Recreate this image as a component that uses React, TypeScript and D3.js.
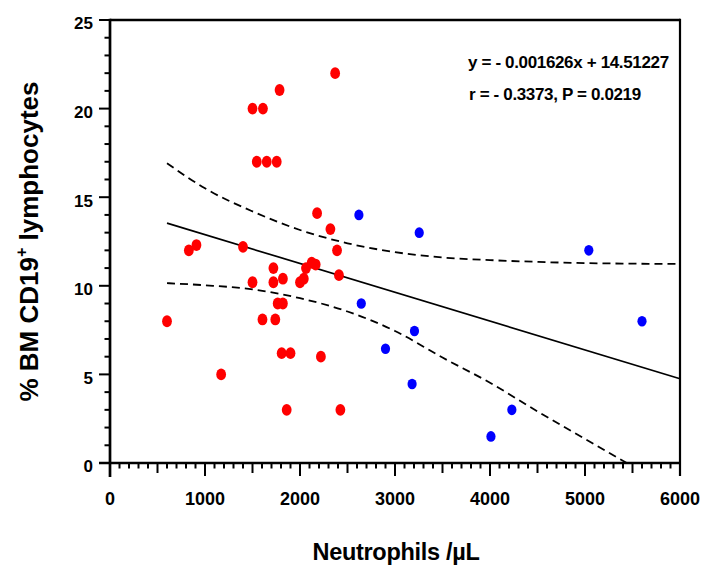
import React from 'react';
import * as d3 from 'd3';

// neutrophils per µL vs % BM CD19+ lymphocytes
const redX = [600, 830, 910, 1170, 1400, 1500, 1610, 1545, 1650, 1755, 1785, 2370, 2180, 2320, 2390, 2410, 1720,
  1500, 1720, 1820, 2000, 2040, 2063, 2123, 2165, 1765, 1820, 1605, 1740, 1807, 1900, 2220, 1860, 2425];
const redY = [8, 12, 12.3, 5, 12.2, 20, 20, 17, 17, 17, 21.05, 22, 14.1, 13.2, 12, 10.6, 11,
  10.2, 10.2, 10.4, 10.2, 10.4, 11, 11.3, 11.2, 9, 9, 8.1, 8.1, 6.2, 6.2, 6, 3, 3];

const blueX = [2620, 3255, 5040, 2645, 5600, 3205, 2900, 3180, 4230, 4010];
const blueY = [14, 13, 12, 9, 8, 7.45, 6.45, 4.46, 3, 1.5];

// fitted line and its 95% band
const slope = -0.001626;
const intercept = 14.51227;
const fitX = [600, 6000];

const bandX = [600, 1000, 1500, 2000, 2500, 3000, 3500, 4000, 4500, 5000, 5500, 6000];
const upperY = [16.92, 15.5, 14.2, 13.15, 12.4, 11.9, 11.6, 11.45, 11.35, 11.28, 11.25, 11.23];
const lowerX = [600, 1000, 1500, 2000, 2500, 3000, 3500, 4000, 4500, 5000, 5440];
const lowerY = [10.15, 10.03, 9.8, 9.3, 8.55, 7.45, 5.95, 4.53, 2.91, 1.36, 0];

const xTicks = [0, 1000, 2000, 3000, 4000, 5000, 6000];
const yTicks = [0, 5, 10, 15, 20, 25];

const eqLine = 'y = - 0.001626x + 14.51227';
const statLine = 'r = - 0.3373, P = 0.0219';

const W = 703, H = 569;
const left = 110, right = 680, top = 20, bottom = 463;
const font = '"Liberation Sans", Arial, sans-serif';

export default function App() {
  const x = d3.scaleLinear().domain([0, 6000]).range([left, right]);
  const y = d3.scaleLinear().domain([0, 25]).range([bottom, top]);

  const line = d3.line<[number, number]>().x(d => x(d[0])).y(d => y(d[1]));
  const curve = d3.line<[number, number]>().x(d => x(d[0])).y(d => y(d[1])).curve(d3.curveMonotoneX);

  const fitPts: [number, number][] = fitX.map(v => [v, slope * v + intercept]);
  const upPts: [number, number][] = bandX.map((v, i) => [v, upperY[i]]);
  const loPts: [number, number][] = lowerX.map((v, i) => [v, lowerY[i]]);

  const xMinor = d3.range(0, 6001, 100);
  const yMinor = d3.range(0, 26, 1);

  return (
    <svg width={W} height={H} style={{ position: 'absolute', left: 0, top: 0 }} fontFamily={font} fontWeight="bold">
      <rect width={W} height={H} fill="#fff" />

      {/* frame */}
      <line x1={left} x2={right} y1={top} y2={top} stroke="#000" strokeWidth={2.7} />
      <line x1={right} x2={right} y1={top - 1.3} y2={bottom + 13} stroke="#000" strokeWidth={2.2} />
      <line x1={left} x2={left} y1={top - 1.3} y2={bottom + 14} stroke="#000" strokeWidth={2.7} />
      <line x1={left - 11} x2={right} y1={bottom} y2={bottom} stroke="#000" strokeWidth={2.7} />

      {/* x ticks */}
      {xMinor.map(v => {
        const len = v % 1000 === 0 ? 13 : v % 500 === 0 ? 10 : 5.5;
        return <line key={'xm' + v} x1={x(v)} x2={x(v)} y1={bottom} y2={bottom + len} stroke="#000" strokeWidth={2} />;
      })}
      {xTicks.map(v => (
        <text key={'xt' + v} x={x(v)} y={505} textAnchor="middle" fontSize={18}>{v}</text>
      ))}

      {/* y ticks */}
      {yMinor.map(v => {
        const len = v % 5 === 0 ? 11 : 5.5;
        return <line key={'ym' + v} x1={left - len} x2={left} y1={y(v)} y2={y(v)} stroke="#000" strokeWidth={2} />;
      })}
      {yTicks.map(v => (
        <text key={'yt' + v} x={93} y={y(v) + 9.3} textAnchor="end" fontSize={17}>{v}</text>
      ))}

      {/* fit and band */}
      <path d={line(fitPts) || ''} fill="none" stroke="#000" strokeWidth={1.7} />
      <path d={curve(upPts) || ''} fill="none" stroke="#000" strokeWidth={1.8} strokeDasharray="8,5" />
      <path d={curve(loPts) || ''} fill="none" stroke="#000" strokeWidth={1.8} strokeDasharray="8,5" />

      {/* points */}
      {redX.map((v, i) => (
        <ellipse key={'r' + i} cx={x(v)} cy={y(redY[i])} rx={4.9} ry={5.9} fill="#ff0000" />
      ))}
      {blueX.map((v, i) => (
        <ellipse key={'b' + i} cx={x(v)} cy={y(blueY[i])} rx={4.6} ry={5.3} fill="#0000ff" />
      ))}

      {/* stats */}
      <text x={468} y={68} fontSize={17} letterSpacing={-0.35}>{eqLine}</text>
      <text x={469} y={100} fontSize={17} letterSpacing={-0.35}>{statLine}</text>

      {/* axis titles */}
      <text x={(left + right) / 2 + 1} y={560} textAnchor="middle" fontSize={23.5} letterSpacing={-0.3}>Neutrophils /µL</text>
      <text transform={`translate(37.5,${(top + bottom) / 2}) rotate(-90)`} textAnchor="middle" fontSize={26}>
        % BM CD19<tspan fontSize={16} dy={-11}>+</tspan><tspan dy={11}> lymphocytes</tspan>
      </text>
    </svg>
  );
}
